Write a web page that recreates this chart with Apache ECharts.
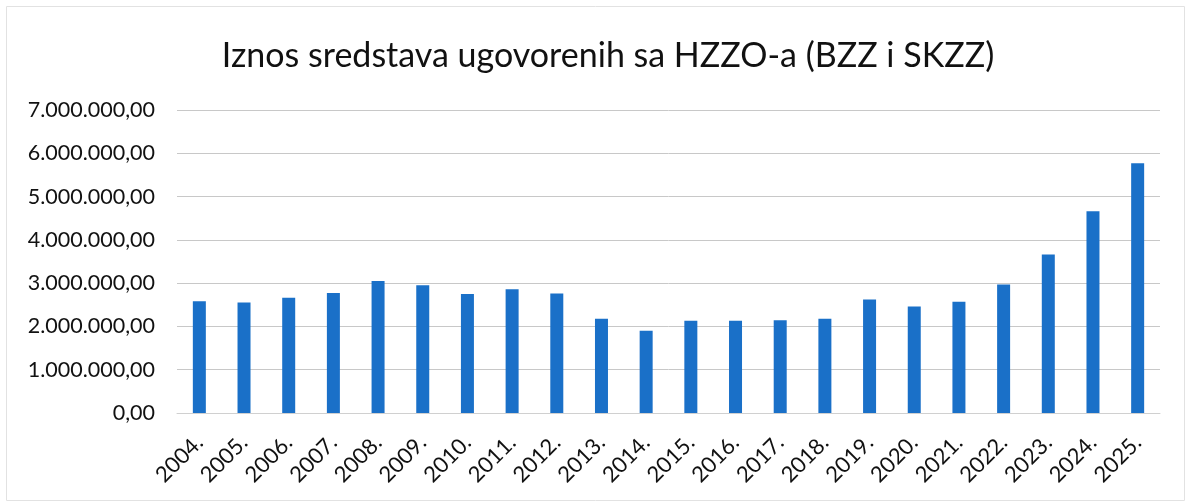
<!DOCTYPE html>
<html>
<head>
<meta charset="utf-8">
<script src="https://cdn.jsdelivr.net/npm/echarts@6/dist/echarts.min.js"></script>
<style>
html,body{margin:0;padding:0;background:#fff;}
#chart{width:1187px;height:503px;}
</style>
</head>
<body>
<div id="chart"></div>
<script>
const categories = ["2004.","2005.","2006.","2007.","2008.","2009.","2010.","2011.","2012.","2013.","2014.","2015.","2016.","2017.","2018.","2019.","2020.","2021.","2022.","2023.","2024.","2025."];
const values = [2580000,2550000,2660000,2770000,3050000,2950000,2750000,2860000,2760000,2180000,1900000,2130000,2130000,2140000,2180000,2620000,2460000,2570000,2970000,3660000,4660000,5770000];
const titleText = "Iznos sredstava ugovorenih sa HZZO-a (BZZ i SKZZ)";

function fmt(v){
  const s = Math.round(v).toString().replace(/\B(?=(\d{3})+(?!\d))/g, ".");
  return s + ",00";
}

const FONT = 'Lato, "Open Sans", sans-serif';
const chart = echarts.init(document.getElementById('chart'), null, {renderer:'canvas'});
chart.setOption({
  backgroundColor:'#ffffff',
  animation:false,
  title:{
    text:titleText,
    left:603, top:34, textAlign:'center',
    textStyle:{fontFamily:FONT, fontSize:34, fontWeight:'normal', color:'#111'}
  },
  grid:{left:177, right:27, top:110, bottom:90, containLabel:false},
  xAxis:{
    type:'category', data:categories,
    axisLine:{show:true, lineStyle:{color:'#d0d0d0'}},
    axisTick:{show:false},
    axisLabel:{rotate:45, interval:0, margin:26, fontFamily:FONT, fontSize:22, color:'#111'}
  },
  yAxis:{
    type:'value', min:0, max:7000000, interval:1000000,
    axisLine:{show:false}, axisTick:{show:false},
    splitLine:{lineStyle:{color:'#c8c8c8', width:1}},
    axisLabel:{formatter:fmt, margin:22, fontFamily:FONT, fontSize:21.5, color:'#111'}
  },
  series:[{
    type:'bar', data:values, barWidth:13,
    itemStyle:{color:'#1a70c8'}
  }],
  graphic:[{
    type:'rect', left:4, top:4, shape:{width:1178, height:494},
    style:{fill:'none', stroke:'#e2e2e2', lineWidth:1}, silent:true
  }]
});
</script>
</body>
</html>
